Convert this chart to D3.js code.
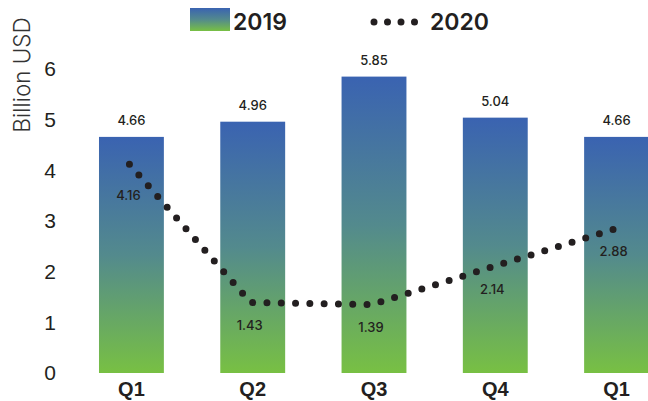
<!DOCTYPE html>
<html>
  <head>
    <meta charset="utf-8">
    <title>Billion USD 2019 vs 2020</title>
    <script src="https://d3js.org/d3.v7.min.js"></script>
    <style>
      body { margin: 0; background: #fff; }
      svg { display: block; font-family: Inter, "Noto Sans", sans-serif; }
      .tick text { fill: #231f20; }
    </style>
  </head>
  <body>
    <div id="chart"></div>
    <script>
      var quarters = ["Q1", "Q2", "Q3", "Q4", "Q1 "];
      var values2019 = [4.66, 4.96, 5.85, 5.04, 4.66];
      var values2020 = [4.16, 1.43, 1.39, 2.14, 2.88];
      var yTicks = [0, 1, 2, 3, 4, 5, 6];

      var width = 648, height = 401;

      var svg = d3.select("#chart")
        .append("svg")
          .attr("width", width)
          .attr("height", height);

      var defs = svg.append("defs");
      var grad = defs.append("linearGradient")
        .attr("id", "barGrad")
        .attr("x1", 0).attr("y1", 0)
        .attr("x2", 0).attr("y2", 1);
      grad.append("stop").attr("offset", "0%").attr("stop-color", "#3a63b1");
      grad.append("stop").attr("offset", "50%").attr("stop-color", "#538a8d");
      grad.append("stop").attr("offset", "100%").attr("stop-color", "#78c043");

      var x = d3.scaleBand()
        .domain(quarters)
        .range([70, 678])
        .paddingInner(0.465)
        .paddingOuter(0.239);

      var y = d3.scaleLinear()
        .domain([0, 6])
        .range([373, 69]);

      // bars
      svg.selectAll("rect.bar")
        .data(values2019)
        .enter()
        .append("rect")
          .attr("class", "bar")
          .attr("x", function(d, i) { return x(quarters[i]); })
          .attr("y", function(d) { return y(d); })
          .attr("width", x.bandwidth())
          .attr("height", function(d) { return y(0) - y(d); })
          .attr("fill", "url(#barGrad)");

      svg.selectAll("text.barLabel")
        .data(values2019)
        .enter()
        .append("text")
          .attr("class", "barLabel")
          .attr("x", function(d, i) { return x(quarters[i]) + x.bandwidth() / 2; })
          .attr("y", function(d) { return y(d) - 12; })
          .attr("text-anchor", "middle")
          .attr("font-size", 13)
          .attr("font-weight", 500)
          .attr("fill", "#231f20")
          .text(function(d) { return d.toFixed(2); });

      // dotted 2020 line
      var line = d3.line()
        .x(function(d, i) { return x(quarters[i]) + x.bandwidth() / 2 - 2; })
        .y(function(d) { return y(d) + 2; });

      svg.append("path")
        .datum(values2020)
        .attr("d", line)
        .attr("fill", "none")
        .attr("stroke", "#231f20")
        .attr("stroke-width", 7)
        .attr("stroke-linecap", "round")
        .attr("stroke-dasharray", "0,14.3");

      svg.selectAll("text.lineLabel")
        .data(values2020)
        .enter()
        .append("text")
          .attr("class", "lineLabel")
          .attr("x", function(d, i) { return x(quarters[i]) + x.bandwidth() / 2 - 3; })
          .attr("y", function(d, i) { return y(d) + (i === 0 ? 38 : 29); })
          .attr("text-anchor", "middle")
          .attr("font-size", 13)
          .attr("font-weight", 500)
          .attr("fill", "#231f20")
          .text(function(d) { return d.toFixed(2); });

      // axes
      var yAxis = svg.append("g")
        .attr("transform", "translate(60,0)")
        .call(d3.axisLeft(y).tickValues(yTicks).tickSize(0).tickFormat(d3.format("d")));
      yAxis.select(".domain").remove();
      yAxis.selectAll("text")
        .attr("x", -10)
        .attr("text-anchor", "middle")
        .attr("font-family", null)
        .attr("font-size", 21)
        .attr("font-weight", 500);

      var xAxis = svg.append("g")
        .attr("transform", "translate(0,373)")
        .call(d3.axisBottom(x).tickSize(0));
      xAxis.select(".domain").remove();
      xAxis.selectAll("text")
        .attr("y", 23)
        .attr("dy", 0)
        .attr("font-family", null)
        .attr("font-size", 20)
        .attr("font-weight", 600)
        .text(function(d) { return d.trim(); });

      svg.append("text")
        .attr("transform", "translate(30,75) rotate(-90)")
        .attr("text-anchor", "middle")
        .attr("font-size", 22.5)
        .attr("font-weight", 300)
        .attr("fill", "#333")
        .text("Billion USD");

      // legend
      svg.append("rect")
        .attr("x", 190).attr("y", 8)
        .attr("width", 40).attr("height", 23)
        .attr("fill", "url(#barGrad)");
      svg.append("text")
        .attr("x", 233).attr("y", 30)
        .attr("font-size", 23)
        .attr("font-weight", 600)
        .attr("fill", "#231f20")
        .text("2019");

      svg.append("line")
        .attr("x1", 374).attr("x2", 415)
        .attr("y1", 22).attr("y2", 22)
        .attr("stroke", "#231f20")
        .attr("stroke-width", 7)
        .attr("stroke-linecap", "round")
        .attr("stroke-dasharray", "0,13.5");
      svg.append("text")
        .attr("x", 430).attr("y", 30)
        .attr("font-size", 23)
        .attr("font-weight", 600)
        .attr("fill", "#231f20")
        .text("2020");
    </script>
  </body>
</html>
